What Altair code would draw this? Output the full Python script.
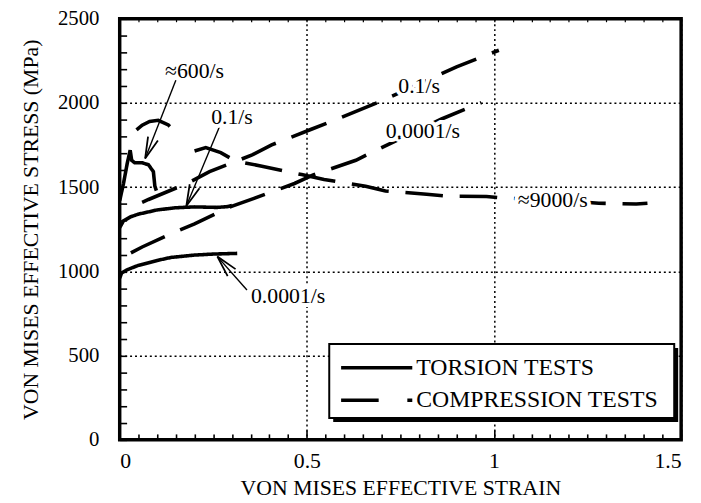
import math
import altair as alt
import pandas as pd

# ---------------- data ----------------
# Torsion tests (solid lines)
tor_0001_x = [0, 0.005, 0.02, 0.05, 0.1, 0.137, 0.2, 0.25, 0.314]
tor_0001_y = [960, 990, 1010, 1036, 1065, 1083, 1097, 1103, 1107]
tor_01_x = [0, 0.01, 0.03, 0.05, 0.1, 0.15, 0.2, 0.26, 0.29, 0.3]
tor_01_y = [1260, 1300, 1325, 1340, 1365, 1378, 1383, 1380, 1385, 1392]
tor_600_x = [0, 0.01, 0.02, 0.028, 0.032, 0.04, 0.06, 0.077, 0.09, 0.094, 0.098]
tor_600_y = [1420, 1520, 1640, 1720, 1660, 1645, 1645, 1633, 1592, 1505, 1480]

# Compression tests (dashed lines)
com_0001_x = [0.03, 0.06, 0.143, 0.2, 0.297, 0.359, 0.467, 0.517, 0.631, 0.7, 0.86, 0.966]
com_0001_y = [1110, 1145, 1230, 1282, 1385, 1434, 1522, 1573, 1660, 1735, 1905, 2002]
com_01_x = [0.06, 0.077, 0.182, 0.24, 0.354, 0.406, 0.512, 0.573, 0.689, 0.9, 1.013]
com_01_y = [1410, 1427, 1524, 1592, 1692, 1751, 1844, 1897, 2002, 2215, 2313]
com_600_x = [0.045, 0.06, 0.08, 0.103, 0.13, 0.156]
com_600_y = [1840, 1868, 1890, 1897, 1870, 1809]
com_9000_x = [0.2, 0.23, 0.27, 0.31, 0.38, 0.486, 0.546, 0.657, 0.71, 0.82, 0.876,
              0.98, 1.03, 1.07, 1.2, 1.28, 1.38, 1.41]
com_9000_y = [1715, 1735, 1705, 1655, 1625, 1575, 1546, 1505, 1478, 1458, 1447,
              1445, 1435, 1432, 1418, 1405, 1400, 1405]

test_types = ["TORSION TESTS", "COMPRESSION TESTS"]

# annotations
ann_text = ["\u2248600/s", "0.1/s", "0.0001/s", "0.1/s", "0.0001/s", "\u22489000/s"]
ann_x = [0.2, 0.30, 0.45, 0.80, 0.81, 1.157]
ann_y = [2190, 1915, 851, 2102, 1832, 1423]

arrow_x0 = [0.15, 0.266, 0.34]
arrow_y0 = [2135, 1856, 890]
arrow_x1 = [0.068, 0.178, 0.261]
arrow_y1 = [1671, 1388, 1088]

x_tick_labels = [0, 0.5, 1, 1.5]
y_tick_labels = [0, 500, 1000, 1500, 2000, 2500]

# ---------------- build tables ----------------
curves = [
    ("t0001", test_types[0], tor_0001_x, tor_0001_y),
    ("t01", test_types[0], tor_01_x, tor_01_y),
    ("t600", test_types[0], tor_600_x, tor_600_y),
    ("c0001", test_types[1], com_0001_x, com_0001_y),
    ("c01", test_types[1], com_01_x, com_01_y),
    ("c600", test_types[1], com_600_x, com_600_y),
    ("c9000", test_types[1], com_9000_x, com_9000_y),
]
rows = []
for cid, t, xs, ys in curves:
    for i, (a, b) in enumerate(zip(xs, ys)):
        rows.append({"curve": cid, "test": t, "i": i, "strain": a, "stress": b})
df = pd.DataFrame(rows)

W, H = 568, 426
XMAX, YMAX = 1.5, 2500

ann_df = pd.DataFrame({"label": ann_text, "x": ann_x, "y": ann_y})
arr_rows = []
for x0, y0, x1, y1 in zip(arrow_x0, arrow_y0, arrow_x1, arrow_y1):
    dx = (x1 - x0) / XMAX * W
    dy = -(y1 - y0) / YMAX * H
    ang = math.degrees(math.atan2(dx, -dy)) % 360
    arr_rows.append({"x0": x0, "y0": y0, "x1": x1, "y1": y1, "ang": ang})
arr_df = pd.DataFrame(arr_rows)

xscale = alt.Scale(domain=[0, XMAX], nice=False, zero=False)
yscale = alt.Scale(domain=[0, YMAX], nice=False, zero=False)

FONT = "Liberation Serif"
x_minor = [round(k * 0.05, 2) for k in range(0, 31)]
y_minor = [k * 100 for k in range(0, 26)]

ax_x_lab = alt.Axis(values=x_tick_labels, labelExpr="format(datum.value, '~g')",
                    grid=True, gridDash=[2, 3], gridColor="black", gridWidth=1.5, gridOpacity=1,
                    ticks=False, tickSize=0, domain=False, labelPadding=11,
                    labelFontSize=22, title="VON MISES EFFECTIVE STRAIN",
                    titleFontSize=22, titleY=55, titleBaseline="alphabetic")
ax_y_lab = alt.Axis(values=y_tick_labels, labelExpr="format(datum.value, 'd')",
                    grid=True, gridDash=[2, 3], gridColor="black",
                    gridWidth=1.5, gridOpacity=1, ticks=False, tickSize=0, domain=False,
                    labelPadding=21, labelFontSize=21,
                    title="VON MISES EFFECTIVE STRESS (MPa)", titleFontSize=22,
                    titleX=-83, titleY=H / 2, titleAngle=-90, titleAlign="center",
                    titleBaseline="alphabetic")

dash_scale = alt.Scale(domain=test_types, range=[[1, 0], [38, 17]])

lines = alt.Chart(df).mark_line(color="black", strokeWidth=3.6, strokeCap="butt").encode(
    x=alt.X("strain:Q", scale=xscale, axis=ax_x_lab),
    y=alt.Y("stress:Q", scale=yscale, axis=ax_y_lab),
    strokeDash=alt.StrokeDash("test:N", scale=dash_scale, legend=None),
    detail="curve:N",
    order="i:Q",
)

# inward ticks: bottom edge (top-oriented axis moved down) and left edge
ticks_a = alt.Chart(ann_df).mark_point(opacity=0).encode(
    x=alt.X("x:Q", scale=xscale,
            axis=alt.Axis(orient="top", offset=-H, values=x_minor, labels=False,
                          domain=False, grid=False, title=None, tickColor="black",
                          tickWidth=1.6,
                          tickSize={"condition": {"test": "abs(datum.value*2 - round(datum.value*2)) < 0.001", "value": 10}, "value": 6})),
    y=alt.Y("y:Q", scale=yscale,
            axis=alt.Axis(orient="right", offset=-W, values=y_minor, labels=False,
                          domain=False, grid=False, title=None, tickColor="black",
                          tickWidth=1.6, tickSize=7)),
)
# inward ticks on the top edge
ticks_b = alt.Chart(ann_df).mark_point(opacity=0).encode(
    x=alt.X("x:Q", scale=xscale,
            axis=alt.Axis(orient="bottom", offset=-H, values=x_minor, labels=False,
                          domain=False, grid=False, title=None, tickColor="black",
                          tickWidth=1.2, tickSize=3)),
    y=alt.Y("y:Q", scale=yscale, axis=None),
)

arrows = alt.Chart(arr_df).mark_rule(color="black", strokeWidth=1.4).encode(
    x=alt.X("x0:Q", scale=xscale, axis=None),
    y=alt.Y("y0:Q", scale=yscale, axis=None),
    x2="x1:Q",
    y2="y1:Q",
)
heads = alt.Chart(arr_df).mark_point(
    shape="M-0.42,1.7L0,0L0.42,1.7", filled=False, color="black", strokeWidth=1.8,
    size=650, opacity=1,
).encode(
    x=alt.X("x1:Q", scale=xscale, axis=None),
    y=alt.Y("y1:Q", scale=yscale, axis=None),
    angle=alt.Angle("ang:Q", scale=None),
)

halo = alt.Chart(ann_df).mark_text(font=FONT, fontSize=22, color="white", stroke="white",
                                   strokeWidth=8, baseline="middle", align="center").encode(
    x=alt.X("x:Q", scale=xscale, axis=None),
    y=alt.Y("y:Q", scale=yscale, axis=None),
    text="label:N",
)
texts = alt.Chart(ann_df).mark_text(font=FONT, fontSize=22, color="black",
                                    baseline="middle", align="center").encode(
    x=alt.X("x:Q", scale=xscale, axis=None),
    y=alt.Y("y:Q", scale=yscale, axis=None),
    text="label:N",
)

# ---------------- legend box (drawn by hand, like the original) ----------------
one = pd.DataFrame({"k": [0]})
leg_df = pd.DataFrame({"test": test_types, "ly": [353, 386]})
LX0, LX1, LY0, LY1 = 212, 561, 329, 404
leg_shadow = alt.Chart(one).mark_rect(color="black").encode(
    x=alt.value(LX0 + 4), x2=alt.value(LX1 + 4), y=alt.value(LY0 + 4), y2=alt.value(LY1 + 4))
leg_box = alt.Chart(one).mark_rect(fill="white", stroke="black", strokeWidth=2).encode(
    x=alt.value(LX0), x2=alt.value(LX1), y=alt.value(LY0), y2=alt.value(LY1))
leg_solid = alt.Chart(leg_df.iloc[[0]]).mark_rule(color="black", strokeWidth=3.5).encode(
    x=alt.value(224), x2=alt.value(296), y=alt.Y("ly:Q", scale=None, axis=None))
leg_dash = alt.Chart(leg_df.iloc[[1]]).mark_rule(color="black", strokeWidth=3.5,
                                                   strokeDash=[38, 29]).encode(
    x=alt.value(224), x2=alt.value(296), y=alt.Y("ly:Q", scale=None, axis=None))
leg_text = alt.Chart(leg_df).mark_text(font=FONT, fontSize=24, color="black",
                                       align="left", baseline="middle").encode(
    x=alt.value(300), y=alt.Y("ly:Q", scale=None, axis=None), text="test:N")

chart = alt.layer(lines, ticks_a, ticks_b, arrows, heads, halo, texts,
                  leg_shadow, leg_box, leg_solid, leg_dash, leg_text).resolve_axis(
    x="independent", y="independent"
).properties(
    width=W, height=H,
    autosize=alt.AutoSizeParams(type="none"),
    padding={"left": 113, "top": 8, "right": 12, "bottom": 61},
).configure_view(
    stroke="black", strokeWidth=3.5
).configure_axis(
    labelFont=FONT, titleFont=FONT, labelColor="black", titleColor="black",
    titleFontWeight="normal"
)

chart.save("out.html", embed_options={"renderer": "svg", "actions": False})
